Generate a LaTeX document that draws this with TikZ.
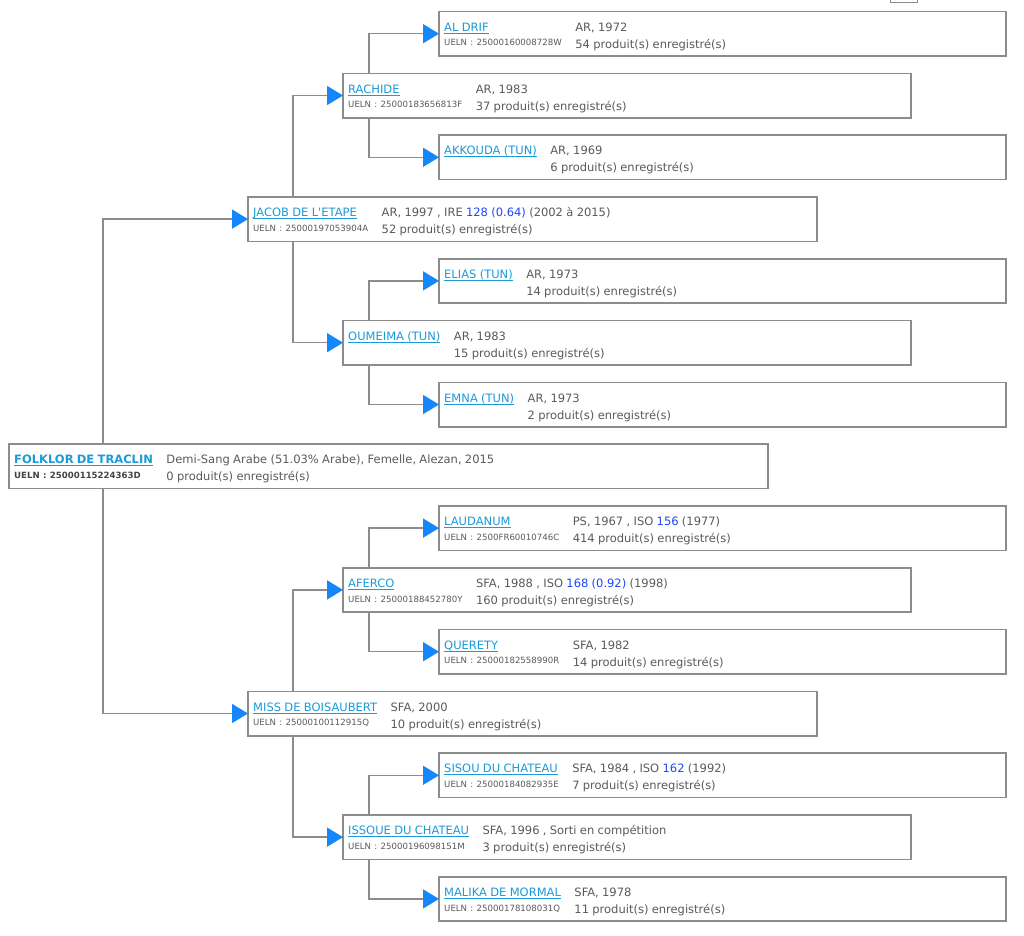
\documentclass[tikz,border=0pt]{standalone}
\usepackage{fontspec}
\setmainfont{DejaVu Sans}[Ligatures=TeXOff]
\usetikzlibrary{arrows.meta}
\definecolor{cadre}{HTML}{8C8C8C}
\definecolor{nomcl}{HTML}{1B9AD8}
\definecolor{infocl}{HTML}{5A5A5A}
\definecolor{uelncl}{HTML}{444444}
\definecolor{indcl}{HTML}{1F45FC}
\definecolor{flechecl}{HTML}{1487FB}
\newcommand\lien[1]{\setbox0\hbox{#1}\rlap{\rule[-2.4pt]{\wd0}{0.9pt}}\box0}
\newcommand\nom[1]{\textcolor{nomcl}{\lien{#1}}}
\newcommand\ueln[1]{\raisebox{2.3pt}{\fontsize{8.6}{17}\selectfont UELN : #1}}
\newcommand\indice[1]{\textcolor{indcl}{#1}}
\newcommand\fiche[4]{\fontsize{11.5}{17}\selectfont\color{infocl}\begin{tabular}[t]{@{}l@{\hspace{13.5pt}}l@{}}#1 & #3\\ #2 & #4\end{tabular}}

\begin{document}
\begin{tikzpicture}[x=1pt,y=-1pt,
  box/.style={draw=cadre,line width=1.6pt,fill=white,anchor=north west,inner xsep=5.2pt,inner ysep=0pt,outer sep=0pt,text height=19.7pt,text depth=24.7pt},
  gen3/.style={box,text width=556.6pt},
  gen2/.style={box,text width=557.6pt},
  gen1/.style={box,text width=558.6pt},
  link/.style={draw=cadre,line width=1.5pt,-{Triangle[length=16pt,width=19pt,color=flechecl]}}]
\fill[white] (0,0) rectangle (1024,935);
\useasboundingbox (0,0) rectangle (1024,935);

%cheval
\node[box,text width=748.6pt] (folklor) at (9,444.1) {\fiche{\bfseries\nom{FOLKLOR DE TRACLIN}}{\bfseries\color{uelncl}\ueln{25000115224363D}}{Demi-Sang Arabe (51.03\% Arabe), Femelle, Alezan, 2015}{0 produit(s) enregistré(s)}};

%parents
\node[gen1] (jacob) at (248,196.9) {\fiche{\nom{JACOB DE L'ETAPE}}{\ueln{25000197053904A}}{AR, 1997 , IRE \indice{128 (0.64)} (2002 à 2015)}{52 produit(s) enregistré(s)}};
\node[gen1] (miss) at (248,691.3) {\fiche{\nom{MISS DE BOISAUBERT}}{\ueln{25000100112915Q}}{SFA, 2000}{10 produit(s) enregistré(s)}};

%grands-parents
\node[gen2] (rachide) at (343,73.3) {\fiche{\nom{RACHIDE}}{\ueln{25000183656813F}}{AR, 1983}{37 produit(s) enregistré(s)}};
\node[gen2] (oumeima) at (343,320.5) {\fiche{\nom{OUMEIMA (TUN)}}{}{AR, 1983}{15 produit(s) enregistré(s)}};
\node[gen2] (aferco) at (343,567.7) {\fiche{\nom{AFERCO}}{\ueln{25000188452780Y}}{SFA, 1988 , ISO \indice{168 (0.92)} (1998)}{160 produit(s) enregistré(s)}};
\node[gen2] (issoue) at (343,814.9) {\fiche{\nom{ISSOUE DU CHATEAU}}{\ueln{25000196098151M}}{SFA, 1996 , Sorti en compétition}{3 produit(s) enregistré(s)}};

%arrière-grands-parents
\node[gen3] (aldrif) at (439,11.5) {\fiche{\nom{AL DRIF}}{\ueln{25000160008728W}}{AR, 1972}{54 produit(s) enregistré(s)}};
\node[gen3] (akkouda) at (439,135.1) {\fiche{\nom{AKKOUDA (TUN)}}{}{AR, 1969}{6 produit(s) enregistré(s)}};
\node[gen3] (elias) at (439,258.7) {\fiche{\nom{ELIAS (TUN)}}{}{AR, 1973}{14 produit(s) enregistré(s)}};
\node[gen3] (emna) at (439,382.3) {\fiche{\nom{EMNA (TUN)}}{}{AR, 1973}{2 produit(s) enregistré(s)}};
\node[gen3] (laudanum) at (439,505.9) {\fiche{\nom{LAUDANUM}}{\ueln{2500FR60010746C}}{PS, 1967 , ISO \indice{156} (1977)}{414 produit(s) enregistré(s)}};
\node[gen3] (querety) at (439,629.5) {\fiche{\nom{QUERETY}}{\ueln{25000182558990R}}{SFA, 1982}{14 produit(s) enregistré(s)}};
\node[gen3] (sisou) at (439,753.1) {\fiche{\nom{SISOU DU CHATEAU}}{\ueln{25000184082935E}}{SFA, 1984 , ISO \indice{162} (1992)}{7 produit(s) enregistré(s)}};
\node[gen3] (malika) at (439,876.7) {\fiche{\nom{MALIKA DE MORMAL}}{\ueln{25000178108031Q}}{SFA, 1978}{11 produit(s) enregistré(s)}};

%petit cadre en haut
\node[draw=cadre,line width=1.2pt,anchor=south west,minimum width=27pt,minimum height=9pt,inner sep=0pt] (haut) at (890,3) {};

%liens
\draw[link] ([xshift=94pt]folklor.north west) |- (jacob.west);
\draw[link] ([xshift=94pt]folklor.south west) |- (miss.west);
\draw[link] ([xshift=45pt]jacob.north west) |- (rachide.west);
\draw[link] ([xshift=45pt]jacob.south west) |- (oumeima.west);
\draw[link] ([xshift=45pt]miss.north west) |- (aferco.west);
\draw[link] ([xshift=45pt]miss.south west) |- (issoue.west);
\draw[link] ([xshift=26pt]rachide.north west) |- (aldrif.west);
\draw[link] ([xshift=26pt]rachide.south west) |- (akkouda.west);
\draw[link] ([xshift=26pt]oumeima.north west) |- (elias.west);
\draw[link] ([xshift=26pt]oumeima.south west) |- (emna.west);
\draw[link] ([xshift=26pt]aferco.north west) |- (laudanum.west);
\draw[link] ([xshift=26pt]aferco.south west) |- (querety.west);
\draw[link] ([xshift=26pt]issoue.north west) |- (sisou.west);
\draw[link] ([xshift=26pt]issoue.south west) |- (malika.west);
\end{tikzpicture}
\end{document}
